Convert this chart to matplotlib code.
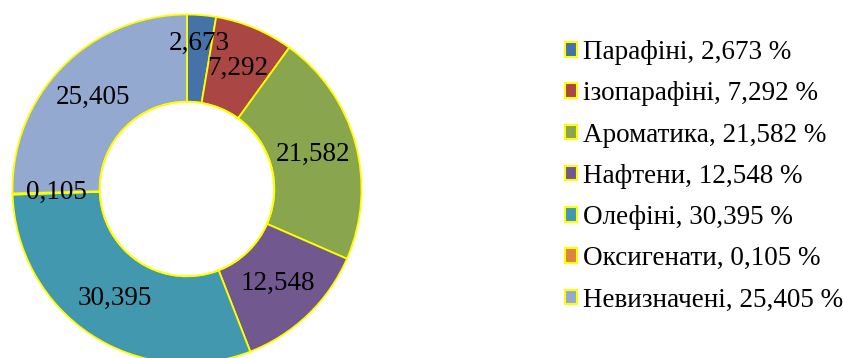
import numpy as np
import matplotlib.pyplot as plt
from matplotlib.patches import Patch

plt.rcParams['font.family'] = ['Liberation Serif', 'DejaVu Serif']

names = ['Парафіні', 'ізопарафіні', 'Ароматика', 'Нафтени', 'Олефіні', 'Оксигенати', 'Невизначені']
values = [2.673, 7.292, 21.582, 12.548, 30.395, 0.105, 25.405]
colors = ['#4572A7', '#AA4643', '#89A54E', '#71588F', '#4198AF', '#DB843D', '#93A9CF']
# radial position of each value label (first one pushed outward like in the original)
label_r = [0.84, 0.75, 0.75, 0.75, 0.75, 0.75, 0.75]

W, H = 843, 358
cx, cy, R = 187, 189, 174.5

fig = plt.figure(figsize=(W / 100, H / 100), dpi=100)
ax = fig.add_axes([(cx - R) / W, (H - cy - R) / H, 2 * R / W, 2 * R / H])

wedges, _ = ax.pie(values, colors=colors, startangle=90, counterclock=False,
                   radius=1, wedgeprops=dict(width=0.5, edgecolor='#FFFF00', linewidth=1.3))
ax.set_xlim(-1, 1)
ax.set_ylim(-1, 1)
ax.set_aspect('equal')
ax.axis('off')

# inner hole outline
hole = plt.Circle((0, 0), 0.5, fill=False, edgecolor='#FFFF00', linewidth=1.3)
ax.add_patch(hole)

total = sum(values)
cum = 0
for v, r in zip(values, label_r):
    mid = (cum + v / 2) / total * 2 * np.pi
    cum += v
    x = r * np.sin(mid)
    y = r * np.cos(mid)
    ax.text(x, y, f'{v:.3f}'.replace('.', ','), ha='center', va='center', fontsize=19.5)

handles = [Patch(facecolor=c, edgecolor='#FFFF00', linewidth=1.5) for c in colors]
labels = [f'{n}, {v:.3f} %'.replace('.', ',') for n, v in zip(names, values)]
fig.legend(handles, labels, loc='upper left', bbox_to_anchor=(565 / W, 1 - 40 / H),
           frameon=False, fontsize=19.5, handlelength=0.45, handleheight=0.45,
           handletextpad=0.22, labelspacing=0.6, borderpad=0, borderaxespad=0)

plt.savefig('out.png', dpi=100)
